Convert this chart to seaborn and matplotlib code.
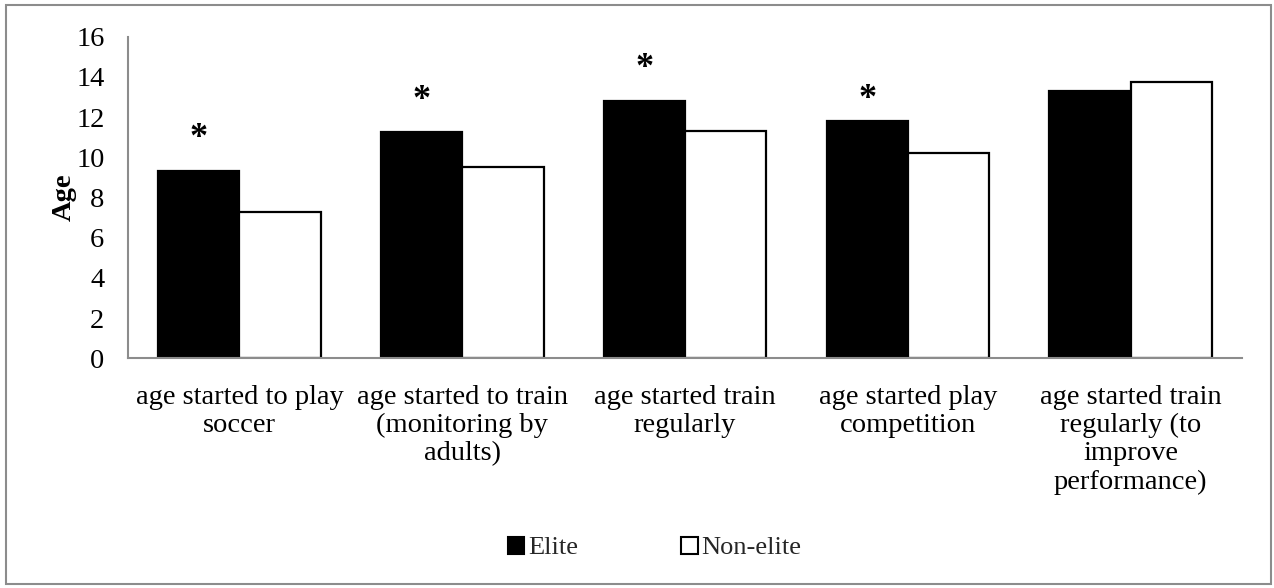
import matplotlib
matplotlib.use("Agg")
import matplotlib.pyplot as plt
import matplotlib.patches as mpatches
import seaborn as sns
import pandas as pd

categories = [
    "age started to play\nsoccer",
    "age started to train\n(monitoring by\nadults)",
    "age started train\nregularly",
    "age started play\ncompetition",
    "age started train\nregularly (to\nimprove\nperformance)",
]
elite = [9.33, 11.27, 12.78, 11.82, 13.31]
non_elite = [7.29, 9.50, 11.31, 10.21, 13.73]
star_y = [10.95, 12.85, 14.4, 12.9]
y_ticks = [0, 2, 4, 6, 8, 10, 12, 14, 16]

df = pd.DataFrame({
    "category": categories * 2,
    "group": ["Elite"] * len(categories) + ["Non-elite"] * len(categories),
    "age": elite + non_elite,
})

sns.set_theme(style="white")
plt.rcParams["font.family"] = ["Liberation Serif", "DejaVu Serif"]

FS = 20.5

fig = plt.figure(figsize=(12.74, 5.88), dpi=100)
ax = fig.add_axes([0.1005, 0.3906, 0.8745, 0.547])

sns.barplot(data=df, x="category", y="age", hue="group", order=categories,
            palette={"Elite": "black", "Non-elite": "white"},
            edgecolor="black", linewidth=1.6, width=0.73, ax=ax,
            legend=False, errorbar=None)

for i, y in enumerate(star_y):
    ax.text(i - 0.73 / 4, y, "*", ha="center", va="center",
            fontsize=26, fontweight="bold", color="black")

ax.set_ylim(0, 16)
ax.set_xlim(-0.5, len(categories) - 0.5)
ax.set_yticks(y_ticks)
ax.set_yticklabels([str(t) for t in y_ticks])
ax.tick_params(axis="y", length=0, pad=17, labelsize=FS, colors="black")
ax.tick_params(axis="x", length=0, pad=19, labelsize=FS, colors="black")
for lbl in ax.get_xticklabels():
    lbl.set_linespacing(1.17)

ax.set_xlabel("")
ax.set_ylabel("Age", fontsize=FS, fontweight="bold", color="black")
ax.yaxis.set_label_coords(-0.046, 0.5)

for s in ["top", "right"]:
    ax.spines[s].set_visible(False)
for s in ["left", "bottom"]:
    ax.spines[s].set_color("#8c8c8c")
    ax.spines[s].set_linewidth(1.5)

handles = [mpatches.Patch(facecolor="black", edgecolor="black", linewidth=1.5, label="Elite"),
           mpatches.Patch(facecolor="white", edgecolor="black", linewidth=1.5, label="Non-elite")]
fig.legend(handles=handles, loc="center", bbox_to_anchor=(0.514, 0.068), ncol=2,
           frameon=False, fontsize=19, handlelength=0.62, handleheight=0.62,
           handletextpad=0.15, columnspacing=3.9)

border = mpatches.Rectangle((0.005, 0.007), 0.993, 0.984, transform=fig.transFigure,
                            fill=False, edgecolor="#8c8c8c", linewidth=1.5)
fig.patches.append(border)

fig.savefig("out.png", dpi=100)
